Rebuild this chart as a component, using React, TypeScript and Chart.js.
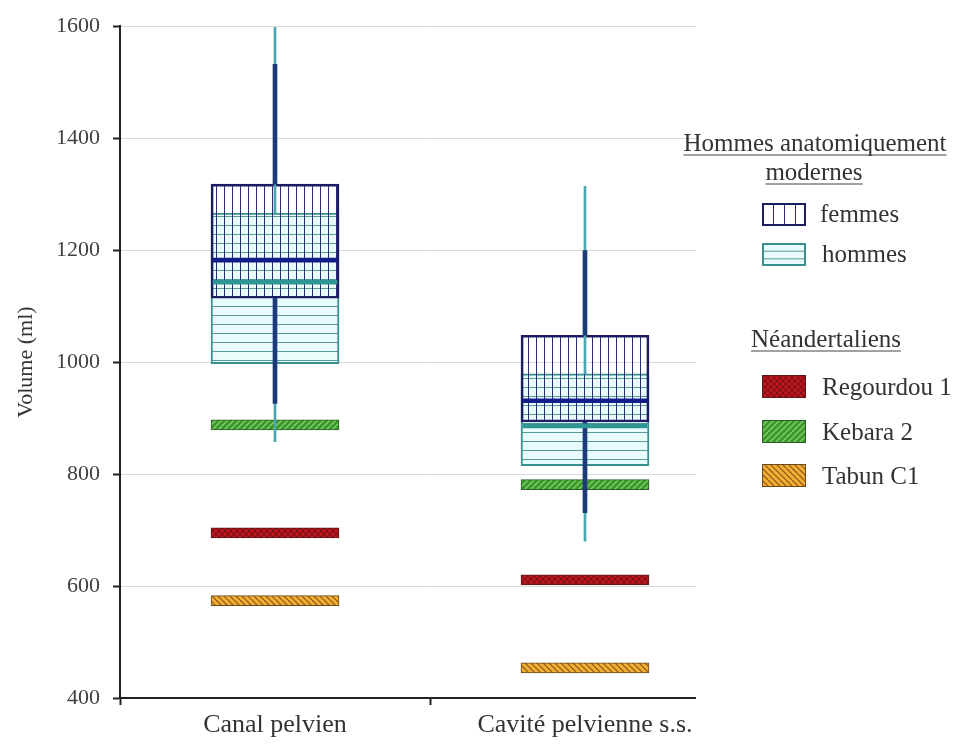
import React, { useEffect, useRef } from "react";
import { Chart, registerables } from "chart.js";

Chart.register(...registerables);

// ---------- data ----------
const categories = ["Canal pelvien", "Cavité pelvienne s.s."];
const yTickValues = [400, 600, 800, 1000, 1200, 1400, 1600];

const femmesMin = [926, 731];
const femmesQ1 = [1114, 893];
const femmesMedian = [1182, 931];
const femmesQ3 = [1318, 1048];
const femmesMax = [1532, 1199];

const hommesMin = [858, 680];
const hommesQ1 = [997, 815];
const hommesMedian = [1143, 886];
const hommesQ3 = [1266, 979];
const hommesMax = [1598, 1314];

const regourdou1 = [695, 611];
const kebara2 = [888, 781];
const tabunC1 = [574, 454];

const legendTitle1a = "Hommes anatomiquement";
const legendTitle1b = "modernes";
const legendTitle2 = "Néandertaliens";
const legendFemmes = "femmes";
const legendHommes = "hommes";
const legendRegourdou = "Regourdou 1";
const legendKebara = "Kebara 2";
const legendTabun = "Tabun C1";

// ---------- helpers ----------
const range = (lo: number[], hi: number[]) => lo.map((v, i) => [v, hi[i]]);
const band = (vals: number[], half: number) => vals.map((v) => [v - half, v + half]);

function makePattern(
  w: number,
  h: number,
  bg: string | null,
  draw: (g: CanvasRenderingContext2D) => void
): CanvasPattern {
  const c = document.createElement("canvas");
  c.width = w;
  c.height = h;
  const g = c.getContext("2d")!;
  if (bg) {
    g.fillStyle = bg;
    g.fillRect(0, 0, w, h);
  }
  draw(g);
  return g.createPattern(c, "repeat")!;
}

function diag(g: CanvasRenderingContext2D, s: number, color: string, dir: 1 | -1, lw: number) {
  g.strokeStyle = color;
  g.lineWidth = lw;
  g.beginPath();
  for (let k = -1; k <= 1; k++) {
    if (dir === 1) {
      g.moveTo(k * s, s);
      g.lineTo(k * s + s, 0);
    } else {
      g.moveTo(k * s, 0);
      g.lineTo(k * s + s, s);
    }
  }
  g.stroke();
}

const FONT = '"Liberation Serif", "Times New Roman", serif';

export default function App() {
  const ref = useRef<HTMLCanvasElement>(null);

  useEffect(() => {
    const canvas = ref.current!;
    const vPat = makePattern(8, 8, null, (g) => {
      g.fillStyle = "#2c2c78";
      g.fillRect(0, 0, 1, 8);
    });
    const hPat = makePattern(9, 9, "#e8fcfc", (g) => {
      g.fillStyle = "#5a9a9a";
      g.fillRect(0, 0, 9, 1);
    });
    const redPat = makePattern(6, 6, "#c4161c", (g) => {
      diag(g, 6, "#7a1218", 1, 1.2);
      diag(g, 6, "#7a1218", -1, 1.2);
    });
    const greenPat = makePattern(6, 6, "#3c9a2d", (g) => diag(g, 6, "#86d070", 1, 1.3));
    const orangePat = makePattern(6, 6, "#f2b033", (g) => diag(g, 6, "#9a5c1c", -1, 1.3));

    const boxW = 128;
    const neanderHalf = 9;
    const medianHalf = 3.6;

    const legendPlugin = {
      id: "customLegend",
      afterDraw(chart: any) {
        const ctx: CanvasRenderingContext2D = chart.ctx;
        ctx.save();
        ctx.fillStyle = "#ffffff";
        ctx.fillRect(696, 0, 263, 707);

        ctx.fillStyle = "#333333";
        ctx.strokeStyle = "#444444";
        ctx.font = `25px ${FONT}`;
        ctx.textBaseline = "alphabetic";

        const underlined = (t: string, cx: number, by: number) => {
          ctx.textAlign = "center";
          ctx.fillText(t, cx, by);
          const w = ctx.measureText(t).width;
          ctx.lineWidth = 1.2;
          ctx.beginPath();
          ctx.moveTo(cx - w / 2, by + 4);
          ctx.lineTo(cx + w / 2, by + 4);
          ctx.stroke();
        };
        underlined(legendTitle1a, 815, 151);
        underlined(legendTitle1b, 814, 180);
        underlined(legendTitle2, 826, 347);

        const sx = 762;
        const sw = 44;
        const sh = 23;
        const swatch = (y: number, fill: any, border: string, bw: number) => {
          ctx.fillStyle = "#ffffff";
          ctx.fillRect(sx, y, sw, sh);
          ctx.fillStyle = fill;
          ctx.fillRect(sx, y, sw, sh);
          ctx.strokeStyle = border;
          ctx.lineWidth = bw;
          ctx.strokeRect(sx + bw / 2, y + bw / 2, sw - bw, sh - bw);
        };
        // femmes swatch: vertical lines
        ctx.fillStyle = "#ffffff";
        ctx.fillRect(sx, 203, sw, sh);
        ctx.fillStyle = "#2c2c78";
        for (let i = 1; i <= 3; i++) ctx.fillRect(sx + (i * sw) / 4, 203, 1, sh);
        ctx.strokeStyle = "#1c1c60";
        ctx.lineWidth = 2;
        ctx.strokeRect(sx + 1, 204, sw - 2, sh - 2);
        // hommes swatch: horizontal lines
        ctx.fillStyle = "#e8fcfc";
        ctx.fillRect(sx, 243, sw, sh);
        ctx.fillStyle = "#5a9a9a";
        for (let i = 1; i <= 2; i++) ctx.fillRect(sx, 243 + (i * sh) / 3, sw, 1);
        ctx.strokeStyle = "#3a8f8f";
        ctx.lineWidth = 2;
        ctx.strokeRect(sx + 1, 244, sw - 2, sh - 2);

        swatch(375, redPat, "#5a1a1a", 1);
        swatch(420, greenPat, "#2b5a2b", 1);
        swatch(464, orangePat, "#6a4a1a", 1);

        ctx.fillStyle = "#333333";
        ctx.textAlign = "left";
        ctx.fillText(legendFemmes, 820, 222);
        ctx.fillText(legendHommes, 822, 262);
        ctx.fillText(legendRegourdou, 822, 395);
        ctx.fillText(legendKebara, 822, 440);
        ctx.fillText(legendTabun, 822, 484);
        ctx.restore();
      },
    };

    const chart = new Chart(canvas, {
      type: "bar",
      data: {
        labels: categories,
        datasets: [
          {
            label: legendTabun,
            data: band(tabunC1, neanderHalf) as any,
            backgroundColor: orangePat,
            borderColor: "#6a4a1a",
            borderWidth: 1,
            borderSkipped: false,
            barThickness: boxW,
            order: 20,
          },
          {
            label: legendRegourdou,
            data: band(regourdou1, neanderHalf) as any,
            backgroundColor: redPat,
            borderColor: "#5a1a1a",
            borderWidth: 1,
            borderSkipped: false,
            barThickness: boxW,
            order: 19,
          },
          {
            label: legendKebara,
            data: band(kebara2, neanderHalf) as any,
            backgroundColor: greenPat,
            borderColor: "#2b5a2b",
            borderWidth: 1,
            borderSkipped: false,
            barThickness: boxW,
            order: 18,
          },
          {
            label: "hommes box",
            data: range(hommesQ1, hommesQ3) as any,
            backgroundColor: hPat,
            borderColor: "#3a8f8f",
            borderWidth: 2,
            borderSkipped: false,
            barThickness: boxW,
            order: 17,
          },
          {
            label: "femmes box",
            data: range(femmesQ1, femmesQ3) as any,
            backgroundColor: vPat,
            borderColor: "#1c1c60",
            borderWidth: 2,
            borderSkipped: false,
            barThickness: boxW,
            order: 16,
          },
          {
            label: "hommes upper",
            data: range(hommesQ3, hommesMax) as any,
            backgroundColor: "#4aa6b0",
            barThickness: 2,
            order: 15,
          },
          {
            label: "hommes lower",
            data: range(hommesMin, hommesQ1) as any,
            backgroundColor: "#4aa6b0",
            barThickness: 2,
            order: 15,
          },
          {
            label: "femmes upper",
            data: range(femmesQ3, femmesMax) as any,
            backgroundColor: "#1d3a78",
            barThickness: 4,
            order: 14,
          },
          {
            label: "femmes lower",
            data: range(femmesMin, femmesQ1) as any,
            backgroundColor: "#1d3a78",
            barThickness: 4,
            order: 14,
          },
          {
            label: "hommes median",
            data: band(hommesMedian, medianHalf) as any,
            backgroundColor: "#2f9595",
            barThickness: boxW - 4,
            order: 13,
          },
          {
            label: "femmes median",
            data: band(femmesMedian, medianHalf) as any,
            backgroundColor: "#121d8a",
            barThickness: boxW - 4,
            order: 12,
          },
        ],
      },
      options: {
        responsive: false,
        animation: false,
        devicePixelRatio: 1,
        layout: { padding: { left: 0, top: 22, right: 219, bottom: 0 } },
        datasets: { bar: { grouped: false } } as any,
        plugins: {
          legend: { display: false },
          tooltip: { enabled: false },
          title: { display: false },
        },
        scales: {
          x: {
            type: "category",
            offset: true,
            grid: {
              offset: true,
              drawOnChartArea: false,
              tickLength: 7,
              tickColor: "#222222",
              tickWidth: 2,
            },
            border: { color: "#222222", width: 2 },
            ticks: {
              font: { family: FONT, size: 26 },
              color: "#333333",
              padding: 5,
            },
            afterFit(scale: any) {
              scale.height = 47;
            },
          },
          y: {
            type: "linear",
            min: 400,
            max: 1600,
            afterBuildTicks(scale: any) {
              scale.ticks = yTickValues.map((v) => ({ value: v }));
            },
            grid: {
              color: "#d9d9d9",
              lineWidth: 1,
              tickLength: 7,
              tickColor: "#222222",
              tickWidth: 2,
            },
            border: { color: "#222222", width: 2 },
            ticks: {
              font: { family: FONT, size: 22 },
              color: "#404040",
              padding: 13,
              callback: (v: any) => String(v),
            },
            title: {
              display: true,
              text: "Volume (ml)",
              font: { family: FONT, size: 22 },
              color: "#333333",
              padding: { top: 13, bottom: 0 },
            },
            afterFit(scale: any) {
              scale.width = 120;
            },
          },
        },
      },
      plugins: [legendPlugin],
    });

    return () => chart.destroy();
  }, []);

  return (
    <div style={{ position: "fixed", left: 0, top: 0, width: 959, height: 745, background: "#fff" }}>
      <canvas ref={ref} width={959} height={745} />
    </div>
  );
}
